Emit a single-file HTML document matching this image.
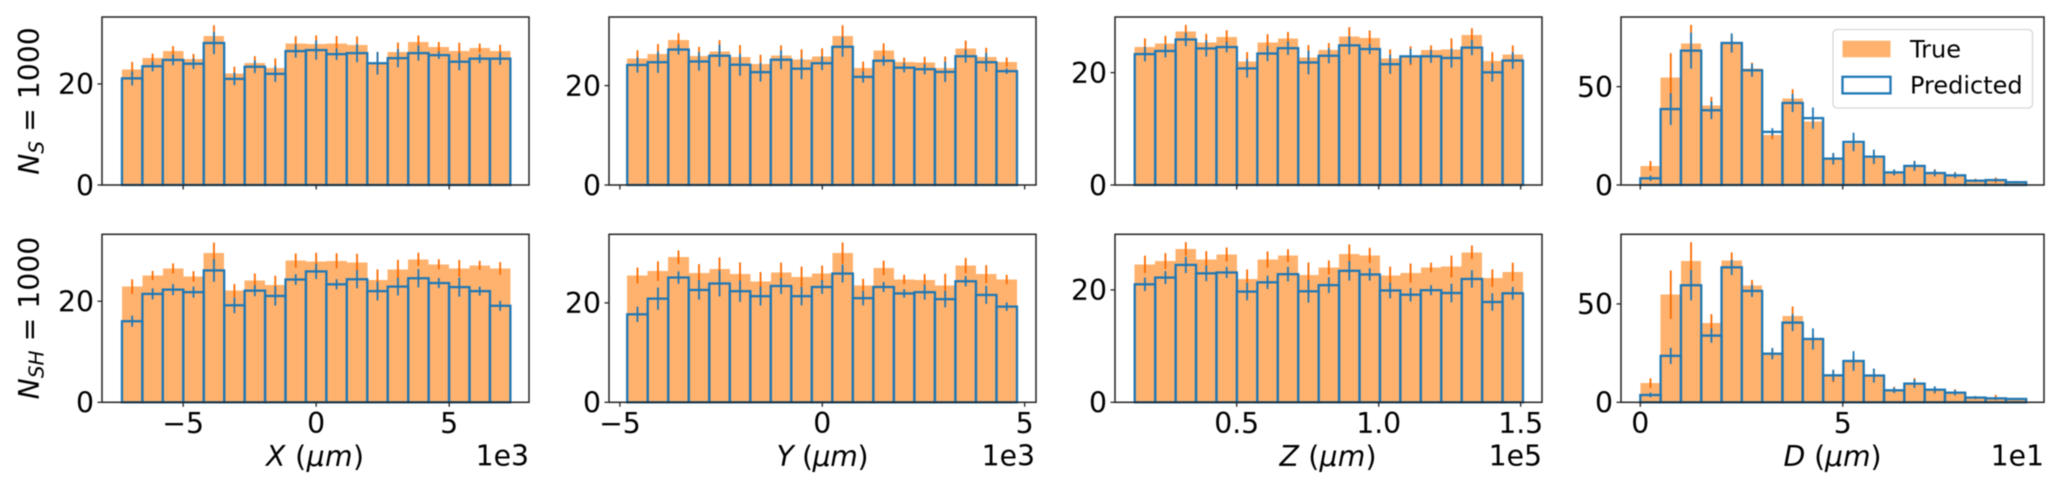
<!DOCTYPE html>
<html lang="en">
<head>
<meta charset="utf-8">
<title>True vs predicted histograms</title>
<style>
  html, body { margin: 0; padding: 0; background: #ffffff; }
  svg { display: block; filter: blur(0.4px); }
  text { font-family: "DejaVu Sans", "Liberation Sans", sans-serif; fill: #000000; }
  .it { font-style: italic; }
</style>
</head>
<body>
<svg id="chart" xmlns="http://www.w3.org/2000/svg" width="2067" height="490" viewBox="0 0 2067 490">
  <g id="plots"></g>

  <text transform="translate(39,101) rotate(-90)" text-anchor="middle" font-size="28.3"><tspan class="it">N</tspan><tspan class="it" font-size="20" dy="4.5">S</tspan><tspan dy="-4.5"> = 1000</tspan></text>
  <text transform="translate(39,318) rotate(-90)" text-anchor="middle" font-size="28.3"><tspan class="it">N</tspan><tspan class="it" font-size="20" dy="4.5">SH</tspan><tspan dy="-4.5"> = 1000</tspan></text>

  <text x="315" y="466" text-anchor="middle" font-size="28.3" textLength="98"><tspan class="it">X</tspan> (<tspan class="it">μm</tspan>)</text>
  <text x="822.5" y="466" text-anchor="middle" font-size="28.3" textLength="92"><tspan class="it">Y</tspan> (<tspan class="it">μm</tspan>)</text>
  <text x="1328" y="466" text-anchor="middle" font-size="28.3" textLength="97"><tspan class="it">Z</tspan> (<tspan class="it">μm</tspan>)</text>
  <text x="1832.5" y="466" text-anchor="middle" font-size="28.3" textLength="98"><tspan class="it">D</tspan> (<tspan class="it">μm</tspan>)</text>

  <text x="529" y="465.5" text-anchor="end" font-size="28.3">1e3</text>
  <text x="1035" y="465.5" text-anchor="end" font-size="28.3">1e3</text>
  <text x="1542" y="465.5" text-anchor="end" font-size="28.3">1e5</text>
  <text x="2044" y="465.5" text-anchor="end" font-size="28.3">1e1</text>

  <g>
    <rect x="1833" y="29.5" width="199.5" height="78.5" rx="4" ry="4" fill="#ffffff" fill-opacity="0.8" stroke="#d6d6d6" stroke-width="1.3"></rect>
    <rect x="1842.5" y="40.7" width="48" height="16.6" fill="#ffb26e"></rect>
    <text x="1910" y="57.3" font-size="24">True</text>
    <rect x="1842.5" y="76.8" width="48" height="16.6" fill="none" stroke="#1f77b4" stroke-width="2.3"></rect>
    <text x="1910" y="93.3" font-size="24">Predicted</text>
  </g>
</svg>

<script>
// ---- Data: true counts and errors (shared by both rows) ----
const trueX = [22.9,25.1,26.5,24.9,29.5,22.1,24.1,23.2,28.05,27.9,28.0,27.7,24.2,26.3,28.3,27.3,26.5,27.1,26.5];
const trueXErr = [1.45,0.9,1.0,1.05,2.1,1.3,1.4,1.85,1.4,1.7,1.5,1.7,2.1,1.9,1.3,1.0,1.65,0.9,1.25];
const trueY = [25.5,26.4,29.2,26.0,26.85,25.8,24.3,26.1,25.2,25.9,30.0,23.5,27.05,24.7,24.6,23.5,27.5,25.8,24.7];
const trueYErr = [1.6,1.95,1.35,1.8,2.3,2.35,1.9,2.0,2.1,1.6,2.15,1.35,1.45,0.95,1.2,2.35,1.55,1.8,0.95];
const trueZ = [24.55,25.15,27.3,25.4,26.3,21.95,25.4,26.1,22.65,24.0,26.4,26.15,22.55,23.0,24.0,24.15,26.7,22.1,23.2];
const trueZErr = [1.55,1.4,1.2,1.5,1.25,1.7,1.45,1.15,2.25,1.25,1.7,1.35,1.6,1.7,0.85,1.95,1.2,1.55,1.65];
const trueD = [9.7,54.7,71.9,40.4,72,59.3,25.4,43.9,32.2,13.2,21,13.6,6.4,9.8,6.2,5,2.4,2.4,1.5];
const trueDErr = [2.5,12.3,9.5,4.4,4.2,2.9,2.2,4.8,2.4,2.9,2.5,3,1.5,2.5,1.8,1.6,0.8,1.4,0.6];

// ---- Data: predicted counts, N_S = 1000 row ----
const predSX = [21.1,23.5,24.75,24.0,28.1,21.0,23.4,22.0,26.5,26.7,25.9,26.1,24.1,25.1,26.1,25.7,24.4,25.0,25.0];
const predSXErr = [1.4,1.0,1.05,1.05,2.2,1.25,1.25,1.6,1.3,1.9,1.15,1.8,2.25,1.8,1.5,0.75,1.7,0.9,1.2];
const predSY = [24.15,24.7,27.25,24.85,26.0,24.2,22.7,25.2,23.4,24.5,27.8,21.75,25.0,23.6,23.3,22.75,25.9,24.7,22.9];
const predSYErr = [1.55,2.15,1.0,1.85,2.2,2.2,1.9,1.9,2.1,1.4,2.0,1.15,1.0,0.95,1.05,2.05,1.3,1.9,0.55];
const predSZ = [23.3,23.85,25.9,24.3,24.55,20.75,23.4,24.35,21.8,23.0,24.85,24.2,21.5,22.9,22.9,22.6,24.45,20.05,22.15];
const predSZErr = [1.3,1.15,1.2,1.45,0.95,1.65,1.35,1.2,2.1,1.35,1.6,0.9,1.7,1.35,1.15,1.7,1.35,1.65,1.5];
const predSD = [3.4,38.6,68.3,38,72.2,58.3,27,41.7,34,13.4,21.9,14.4,6.4,9.7,6.1,4.9,2.2,2.5,1.4];
const predSDErr = [1.4,8.1,9.2,4.5,4.9,3.3,1.9,4.6,5.4,2.9,4.7,3.6,1.5,2.5,1.7,1.4,0.7,0.7,0.4];

// ---- Data: predicted counts, N_SH = 1000 row ----
const predSHX = [16.05,21.45,22.3,21.8,26.1,19.2,22.1,21.05,24.3,25.9,23.35,24.35,22.0,22.9,24.55,23.6,22.8,22.0,19.1];
const predSHXErr = [1.1,1.1,1.1,1.1,2.25,1.55,1.1,1.9,1.05,1.5,1.0,1.8,1.85,1.75,1.8,1.0,1.9,0.9,1.0];
const predSHY = [17.7,20.85,25.1,22.6,23.9,22.35,21.35,23.4,21.35,23.2,25.9,20.95,23.2,21.9,22.15,20.75,24.35,21.6,19.25];
const predSHYErr = [1.55,2.25,1.25,1.95,2.6,2.15,1.9,1.6,1.85,1.4,1.8,1.45,1.0,0.85,1.5,1.65,1.05,1.8,0.85];
const predSHZ = [21.0,22.2,24.45,22.95,23.1,19.7,21.35,22.8,19.75,20.85,23.4,22.75,19.9,19.15,19.95,19.45,21.95,17.85,19.4];
const predSHZErr = [1.2,1.15,1.45,1.4,1.0,1.55,1.2,1.3,2.0,1.4,1.75,1.1,1.4,1.2,0.9,1.65,1.55,1.55,1.15];
const predSHD = [3.7,23.6,59.5,33.9,68.6,56.6,24.7,40.5,32.2,13.7,21,13.6,6.1,9.5,6.4,4.9,2.4,2,1.7];
const predSHDErr = [1.2,4.1,7.7,3.6,3.9,3.1,2.9,4.3,5.4,2.9,5,3.6,1.4,2.2,1.7,1.4,0.7,0.7,0.4];

// ---- Data: histogram ranges, axis limits and tick labels ----
const binRangeX = [-7.3, 7.3];
const binRangeY = [-4.82, 4.81];
const binRangeZ = [0.141, 1.508];
const binRangeD = [0, 9.53];

const xLimX = [-8.05, 8.0];
const xLimY = [-5.27, 5.28];
const xLimZ = [0.0715, 1.575];
const xLimD = [-0.477, 9.97];

const yMaxX = 33.25;
const yMaxY = 33.8;
const yMaxZ = 29.9;
const yMaxD = 85.4;

const xTicksX = [-5, 0, 5];
const xTicksY = [-5, 0, 5];
const xTicksZ = [0.5, 1.0, 1.5];
const xTicksD = [0, 5];
const xTickLabelsX = ["\u22125", "0", "5"];
const xTickLabelsY = ["\u22125", "0", "5"];
const xTickLabelsZ = ["0.5", "1.0", "1.5"];
const xTickLabelsD = ["0", "5"];

const yTicksFlat = [0, 20];
const yTicksD = [0, 50];
const yTickLabelsFlat = ["0", "20"];
const yTickLabelsD = ["0", "50"];

// ---- Panel composition ----
const columns = [
  { key: 'x', px: [102, 529],  bins: binRangeX, xLim: xLimX, yMax: yMaxX, xTicks: xTicksX, xLabels: xTickLabelsX, yTicks: yTicksFlat, yLabels: yTickLabelsFlat, truth: trueX, truthErr: trueXErr, pred: [predSX, predSHX], predErr: [predSXErr, predSHXErr] },
  { key: 'y', px: [609, 1036], bins: binRangeY, xLim: xLimY, yMax: yMaxY, xTicks: xTicksY, xLabels: xTickLabelsY, yTicks: yTicksFlat, yLabels: yTickLabelsFlat, truth: trueY, truthErr: trueYErr, pred: [predSY, predSHY], predErr: [predSYErr, predSHYErr] },
  { key: 'z', px: [1115, 1542], bins: binRangeZ, xLim: xLimZ, yMax: yMaxZ, xTicks: xTicksZ, xLabels: xTickLabelsZ, yTicks: yTicksFlat, yLabels: yTickLabelsFlat, truth: trueZ, truthErr: trueZErr, pred: [predSZ, predSHZ], predErr: [predSZErr, predSHZErr] },
  { key: 'd', px: [1621, 2044], bins: binRangeD, xLim: xLimD, yMax: yMaxD, xTicks: xTicksD, xLabels: xTickLabelsD, yTicks: yTicksD, yLabels: yTickLabelsD, truth: trueD, truthErr: trueDErr, pred: [predSD, predSHD], predErr: [predSDErr, predSHDErr] }
];
const rows = [
  { key: 'ns',  top: 17,    bottom: 185,   showLabels: false },
  { key: 'nsh', top: 234.3, bottom: 402.3, showLabels: true }
];

const SVGNS = 'http://www.w3.org/2000/svg';
const plots = document.getElementById('plots');

function make(tag, attrs, parent) {
  const el = document.createElementNS(SVGNS, tag);
  for (const k in attrs) el.setAttribute(k, attrs[k]);
  parent.appendChild(el);
  return el;
}

function drawPanel(col, row, rowIndex) {
  const xScale = v => col.px[0] + (v - col.xLim[0]) / (col.xLim[1] - col.xLim[0]) * (col.px[1] - col.px[0]);
  const yScale = v => row.bottom - v / col.yMax * (row.bottom - row.top);
  const panelKey = row.key + '-' + col.key;

  const g = make('g', {}, plots);
  
  

  const values = col.pred[rowIndex];
  const errors = col.predErr[rowIndex];
  const n = values.length;
  const binWidth = (col.bins[1] - col.bins[0]) / n;
  const edge = i => col.bins[0] + i * binWidth;

  // true histogram fill
  col.truth.forEach((v, i) => {
    const bar = make('rect', {
      x: xScale(edge(i)), y: yScale(v),
      width: xScale(edge(i + 1)) - xScale(edge(i)),
      height: yScale(0) - yScale(v),
      fill: '#ffb26e', 'shape-rendering': 'crispEdges'
    }, g);
    
    
  });

  // true error bars
  col.truth.forEach((v, i) => {
    const cx = xScale((edge(i) + edge(i + 1)) / 2);
    const err = make('line', {
      x1: cx, x2: cx,
      y1: yScale(v - col.truthErr[i]), y2: yScale(v + col.truthErr[i]),
      stroke: '#fb6a00', 'stroke-width': 1.8
    }, g);
    
    
  });

  // predicted histogram outline
  values.forEach((v, i) => {
    const bar = make('rect', {
      x: xScale(edge(i)), y: yScale(v),
      width: xScale(edge(i + 1)) - xScale(edge(i)),
      height: yScale(0) - yScale(v),
      fill: 'none', stroke: '#1f77b4', 'stroke-width': 2.3
    }, g);
    
    
  });

  // predicted error bars
  values.forEach((v, i) => {
    const cx = xScale((edge(i) + edge(i + 1)) / 2);
    const err = make('line', {
      x1: cx, x2: cx,
      y1: yScale(v - errors[i]), y2: yScale(v + errors[i]),
      stroke: '#1f77b4', 'stroke-width': 1.8
    }, g);
    
    
  });

  // frame
  const frame = make('rect', {
    x: col.px[0], y: row.top,
    width: col.px[1] - col.px[0], height: row.bottom - row.top,
    fill: 'none', stroke: '#222222', 'stroke-width': 1.5
  }, g);
  
  

  // x ticks
  col.xTicks.forEach((t, i) => {
    const tx = xScale(t);
    const tick = make('line', { x1: tx, x2: tx, y1: row.bottom, y2: row.bottom + 4.5, stroke: '#222222', 'stroke-width': 1.3 }, g);
    
    
    if (row.showLabels) {
      const label = make('text', { x: tx, y: row.bottom + 30.7, 'text-anchor': 'middle', 'font-size': 28.3 }, g);
      label.textContent = col.xLabels[i];
      
      
    }
  });

  // y ticks
  col.yTicks.forEach((t, i) => {
    const ty = yScale(t);
    const tick = make('line', { x1: col.px[0] - 4.5, x2: col.px[0], y1: ty, y2: ty, stroke: '#222222', 'stroke-width': 1.3 }, g);
    
    
    const label = make('text', { x: col.px[0] - 8, y: ty + 10.3, 'text-anchor': 'end', 'font-size': 28.3 }, g);
    label.textContent = col.yLabels[i];
    
    
  });
}

rows.forEach((row, r) => columns.forEach(col => drawPanel(col, row, r)));
</script>
</body>
</html>
